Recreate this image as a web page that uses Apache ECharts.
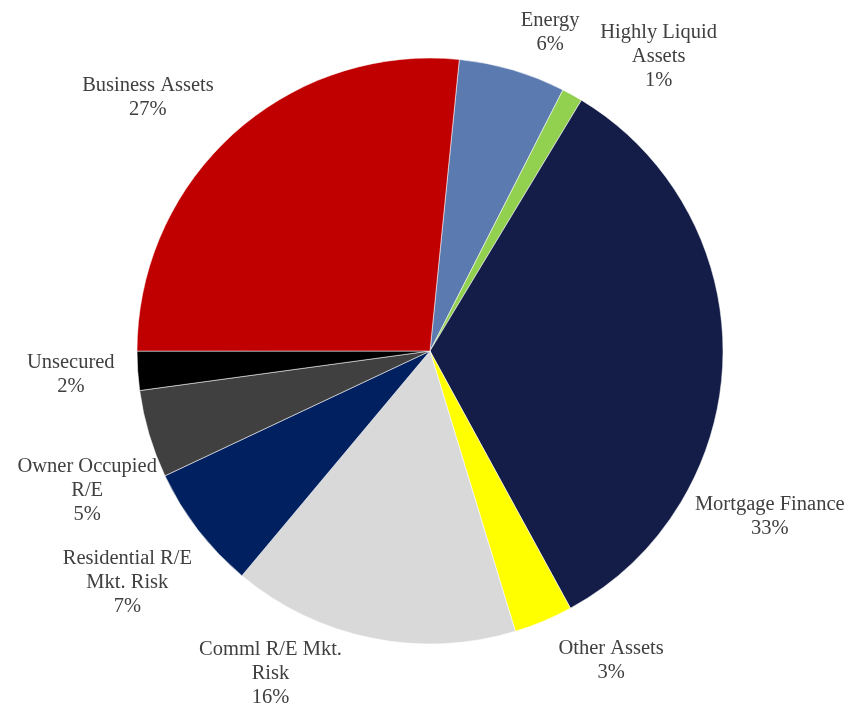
<!DOCTYPE html>
<html>
<head>
<meta charset="utf-8">
<script src="https://cdn.jsdelivr.net/npm/echarts@6/dist/echarts.min.js"></script>
<style>
html,body{margin:0;padding:0;background:#fff;}
#chart{width:848px;height:705px;}
</style>
</head>
<body>
<div id="chart"></div>
<script>
// Data
const categories = [
  'Energy', 'Highly Liquid\nAssets', 'Mortgage Finance', 'Other Assets',
  'Comml R/E Mkt.\nRisk', 'Residential R/E\nMkt. Risk', 'Owner Occupied\nR/E',
  'Unsecured', 'Business Assets'
];
const shares = [5.9, 1.15, 33.4, 3.25, 15.8, 6.9, 4.85, 2.15, 26.6];
const sliceColors = ['#5B7AAF', '#92D050', '#141C48', '#FFFF00', '#D9D9D9', '#002060', '#404040', '#000000', '#C00000'];

// Label placement (polar, relative to pie centre): [angle clockwise from top in degrees, distance px]
const labelPlacement = [[20.7, 340], [37.8, 373], [116, 378], [149.7, 359], [206.3, 360], [232.6, 381], [247.9, 370], [266.2, 360], [311.9, 379]];

const CX = 430, CY = 351, R = 293;

const chart = echarts.init(document.getElementById('chart'), null, {renderer: 'canvas'});
chart.setOption({
  animation: false,
  backgroundColor: '#ffffff',
  series: [{
    type: 'pie',
    center: [CX, CY],
    radius: R,
    startAngle: 84.26,
    clockwise: true,
    avoidLabelOverlap: false,
    minShowLabelAngle: 0,
    data: categories.map((c, i) => ({
      name: c,
      value: shares[i],
      itemStyle: {color: sliceColors[i]}
    })),
    itemStyle: {borderColor: 'rgba(255,255,255,0.7)', borderWidth: 0.75},
    label: {
      show: true,
      position: 'outside',
      fontFamily: '"Liberation Serif", "Times New Roman", serif',
      fontSize: 20.5,
      lineHeight: 24,
      color: '#404040',
      formatter: p => p.name + '\n' + Math.round(p.percent) + '%'
    },
    labelLine: {show: false},
    labelLayout: function (params) {
      const pl = labelPlacement[params.dataIndex];
      const a = pl[0] * Math.PI / 180;
      return {
        x: CX + pl[1] * Math.sin(a),
        y: CY - pl[1] * Math.cos(a),
        align: 'center',
        verticalAlign: 'middle'
      };
    },
    emphasis: {disabled: true}
  }]
});
</script>
</body>
</html>
